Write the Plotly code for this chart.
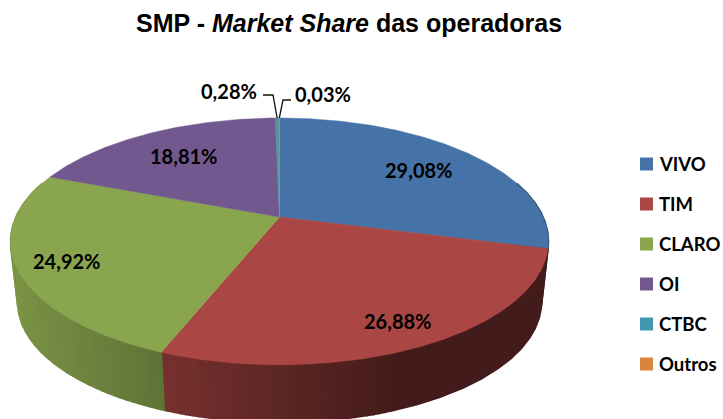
import math
import plotly.graph_objects as go

# ---- data ----
categories = ["VIVO", "TIM", "CLARO", "OI", "CTBC", "Outros"]
shares = [29.08, 26.88, 24.92, 18.81, 0.28, 0.03]
share_labels = ["29,08%", "26,88%", "24,92%", "18,81%", "0,28%", "0,03%"]
colors = ["#4572A7", "#AA4643", "#89A54E", "#71588F", "#4198AF", "#DB843D"]

# ---- geometry of the tilted disc (pixel space of the 723x419 page) ----
CX, CY = 279.5, 217.0
RX, RY, PERSP = 263.7, 118.6, 0.198
DEPTH, BOTTOM_SCALE = 61.5, 0.974
label_xy = [(418, 170), (397, 321), (66, 261), (183, 156), (229, 91), (323, 94)]


def project(deg, bottom=False):
    a = math.radians(deg)
    fwd = -math.cos(a)
    w = 1 - PERSP * fwd
    x, y = RX * math.sin(a) / w, RY * fwd / w
    if bottom:
        return CX + x * BOTTOM_SCALE, CY + DEPTH + y * BOTTOM_SCALE
    return CX + x, CY + y


def shade(hex_color, f):
    r, g, b = (int(hex_color[i:i + 2], 16) for i in (1, 3, 5))
    return f"rgb({round(r * f)},{round(g * f)},{round(b * f)})"


def wall_level(deg):
    x = project(deg)[0]
    f = max(0.39, min(0.9, 0.88 - (x - 20) * 0.49 / 380))
    return round(f * 125) / 125


fig = go.Figure()

# cumulative angles, clockwise from twelve o'clock
total = sum(shares)
edges = [0.0]
for v in shares:
    edges.append(edges[-1] + v / total * 360)

# extruded wall: bands darkening from left to right, one polygon per shade
for i, col in enumerate(colors):
    start, end = edges[i], edges[i + 1]
    n = max(1, int((end - start) / 0.25))
    angles = [start + (end - start) * k / n for k in range(n + 1)]
    angles = [a for a in angles if -math.cos(math.radians(a)) > -0.3]
    if len(angles) < 2:
        continue
    run = [angles[0]]
    level = wall_level(angles[0])
    for a in angles[1:]:
        run.append(a)
        if wall_level(a) != level or a == angles[-1]:
            top = [project(t) for t in run]
            bot = [project(t, True) for t in reversed(run)]
            poly = top + bot + top[:1]
            c = shade(col, level)
            fig.add_trace(go.Scatter(x=[q[0] for q in poly], y=[q[1] for q in poly], mode="lines",
                                     fill="toself", fillcolor=c, line=dict(color=c, width=1.5),
                                     hoverinfo="skip", showlegend=False))
            run = [a]
            level = wall_level(a)

# top face of each slice
for i, (cat, col) in enumerate(zip(categories, colors)):
    start, end = edges[i], edges[i + 1]
    n = max(2, int((end - start) / 0.5))
    arc = [project(start + (end - start) * k / n) for k in range(n + 1)]
    xs = [CX] + [q[0] for q in arc] + [CX]
    ys = [CY] + [q[1] for q in arc] + [CY]
    fig.add_trace(go.Scatter(x=xs, y=ys, mode="lines", fill="toself", fillcolor=col,
                             line=dict(color=col, width=0.5), name=cat,
                             hovertext=f"{cat}: {share_labels[i]}", hoverinfo="text", showlegend=False))

# leader lines of the two tiny slices
mid_ctbc = project((edges[4] + edges[5]) / 2)
mid_out = project((edges[5] + edges[6]) / 2)
fig.add_trace(go.Scatter(x=[263, 273, mid_ctbc[0]], y=[95, 95, mid_ctbc[1]], mode="lines",
                         line=dict(color="#111111", width=1.3), hoverinfo="skip", showlegend=False))
fig.add_trace(go.Scatter(x=[291, 283, mid_out[0]], y=[100, 100, mid_out[1]], mode="lines",
                         line=dict(color="#111111", width=1.3), hoverinfo="skip", showlegend=False))

# data labels
for text, (x, y) in zip(share_labels, label_xy):
    fig.add_annotation(x=x, y=y, text=f"<b>{text}</b>", showarrow=False,
                       font=dict(family="Lato", size=20, color="#000000"))

# key at the right
for i, (cat, col) in enumerate(zip(categories, colors)):
    yk = 164 + 40 * i
    fig.add_trace(go.Scatter(x=[646.5], y=[yk], mode="markers", name=cat,
                             marker=dict(symbol="square", size=13, color=col),
                             hoverinfo="name", showlegend=False))
    fig.add_annotation(x=657, y=yk, text=f"<b>{cat}</b>", showarrow=False, xanchor="left",
                       font=dict(family="Lato", size=18.5, color="#000000"))

fig.add_annotation(x=349, y=23, showarrow=False,
                   text="<b>SMP - <i>Market Share</i> das operadoras</b>",
                   font=dict(family="Liberation Sans", size=25, color="#000000"))

fig.update_layout(
    width=723, height=419, margin=dict(l=0, r=0, t=0, b=0),
    paper_bgcolor="white", plot_bgcolor="white", showlegend=False,
    xaxis=dict(range=[0, 723], visible=False, fixedrange=True),
    yaxis=dict(range=[419, 0], visible=False, fixedrange=True),
)
fig.write_html("out.html", config={"displayModeBar": False},
               post_script="document.body.style.margin='0';document.body.style.overflow='hidden';")
